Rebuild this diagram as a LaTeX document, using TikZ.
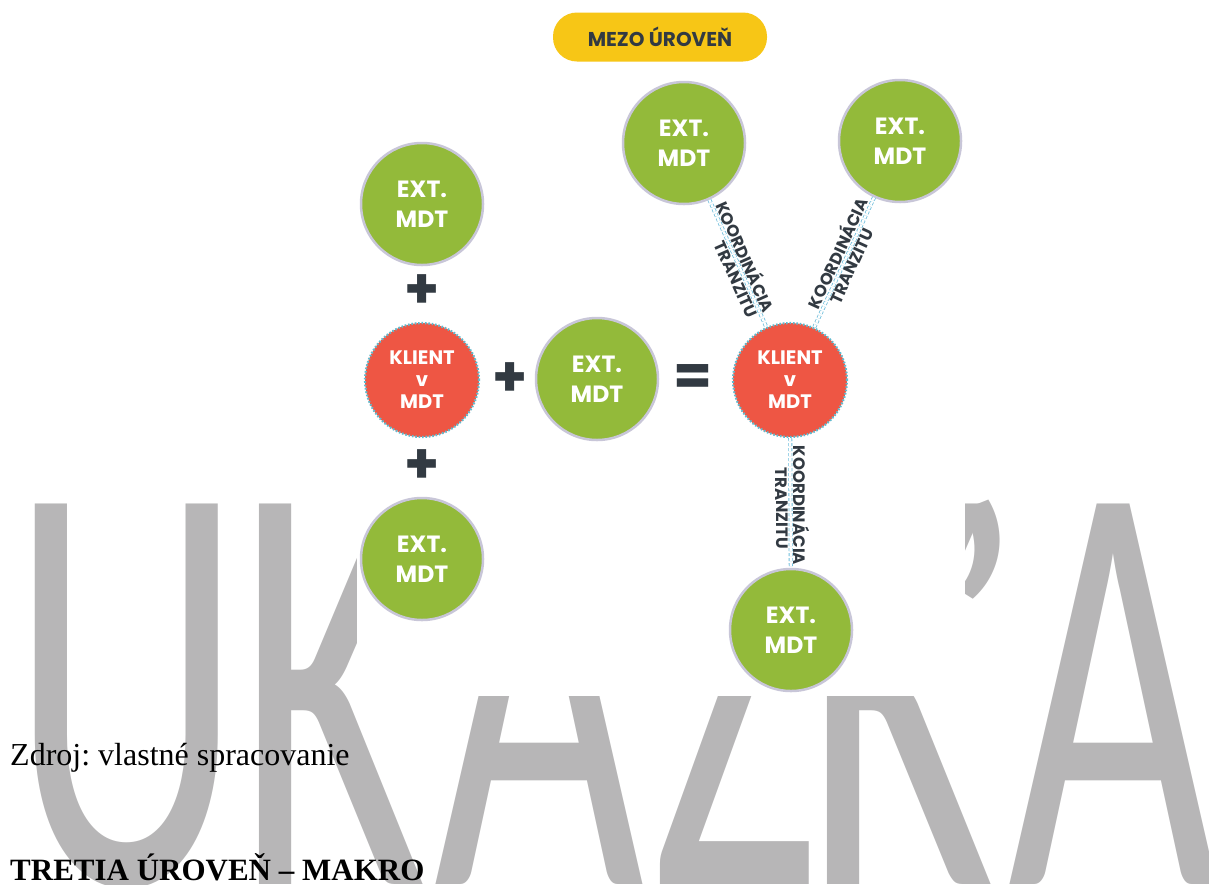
\documentclass[tikz,border=0pt]{standalone}
\usepackage{fontspec}
\usepackage{graphicx}
\usepackage{xcolor}
\usepackage{tikz}

\newfontfamily\diagfont{Poppins}
\newfontfamily\docfont{Liberation Serif}
\newfontfamily\wmfont{Carlito}

\definecolor{extgreen}{RGB}{147,186,58}
\definecolor{ringgray}{RGB}{200,198,216}
\definecolor{klientred}{RGB}{238,86,68}
\definecolor{dotblue}{RGB}{96,186,206}
\definecolor{linkblue}{RGB}{110,190,220}
\definecolor{darktext}{RGB}{50,58,66}
\definecolor{pillyellow}{RGB}{247,198,22}
\definecolor{wmgray}{RGB}{183,182,183}

\newcommand\wmtxt[1]{\scalebox{0.6}[0.982]{#1}}

\tikzset{
  ext/.style={circle, fill=extgreen, draw=ringgray, line width=2.5pt,
    minimum size=122pt, inner sep=0pt, text=white, align=center,
    font={\diagfont\bfseries\fontsize{23.5}{30}\selectfont}},
  klient/.style={circle, fill=klientred, draw=dotblue,
    dash pattern=on 1.6pt off 1.8pt, line width=2.2pt,
    minimum size=114pt, inner sep=0pt, text=white, align=center,
    font={\diagfont\bfseries\fontsize{19.5}{22}\selectfont}},
  op/.style={text=darktext, inner sep=0pt,
    font={\diagfont\bfseries\fontsize{56}{56}\selectfont}},
  link/.style={draw=linkblue, densely dashed, line width=0.8pt,
    double=white, double distance=2.4pt},
  linklabel/.style={sloped, text=darktext, inner sep=2.5pt,
    font={\diagfont\bfseries\fontsize{16.5}{16.5}\selectfont}},
  pill/.style={fill=pillyellow, rounded corners=24pt, minimum width=214pt,
    minimum height=49pt, text=darktext,
    font={\diagfont\bfseries\fontsize{20}{20}\selectfont}},
  wm/.style={anchor=base, inner sep=0pt, text=wmgray,
    font={\wmfont\fontsize{604}{604}\selectfont}},
  doctext/.style={anchor=base west, inner sep=0pt,
    font={\docfont\fontsize{32}{32}\selectfont\frenchspacing}}
}

\begin{document}
\begin{tikzpicture}[x=1pt,y=-1pt]
\useasboundingbox (0,0) rectangle (1209,884);

% watermark
\node[wm] (wmU) at (127,884) {\wmtxt{U}};
\node[wm] (wmK) at (332,884) {\wmtxt{K}};
\node[wm] (wmA) at (539,884) {\wmtxt{Á}};
\node[wm] (wmZ) at (735,884) {\wmtxt{Ž}};
\node[wm] (wmKK) at (900,884) {\wmtxt{K}};
\node[wm, anchor=north] (wmQ) at (980,500) {\scalebox{0.6}[0.6]{’}};
\node[wm] (wmAA) at (1113,884) {\wmtxt{A}};

% white ground of the scheme
\fill[white] (357,0) rectangle (965,696);

% scheme
\node[pill] (level) at (660,37) {MEZO ÚROVEŇ};

\node[ext] (extTop) at (422,204) {EXT.\\MDT};
\node[op] (plusTop) at (422,292) {+};
\node[klient] (kliLeft) at (422,380) {KLIENT\\v\\MDT};
\node[op] (plusBot) at (422,467) {+};
\node[ext] (extBot) at (422,559) {EXT.\\MDT};
\node[op] (plusMid) at (510,380) {+};
\node[ext] (extMid) at (597,379) {EXT.\\MDT};
\node[op] (eqSign) at (693,380) {=};

\node[klient] (kliRight) at (790,380) {KLIENT\\v\\MDT};
\node[ext] (extNW) at (684,143) {EXT.\\MDT};
\node[ext] (extNE) at (900,141) {EXT.\\MDT};
\node[ext] (extS) at (791,630) {EXT.\\MDT};

\draw[link] (extNW) -- (kliRight)
  node[linklabel, pos=0.48, above] {KOORDINÁCIA}
  node[linklabel, pos=0.6, below] {TRANZITU};
\draw[link] (kliRight) -- (extNE)
  node[linklabel, pos=0.54, above] {KOORDINÁCIA}
  node[linklabel, pos=0.5, below] {TRANZITU};
\draw[link] (kliRight) -- (extS)
  node[linklabel, pos=0.52, above] {KOORDINÁCIA}
  node[linklabel, pos=0.54, below] {TRANZITU};

% document text
\node[doctext] (source) at (10,765) {Zdroj: vlastné spracovanie};
\node[doctext, font={\docfont\bfseries\fontsize{31}{31}\selectfont}] (heading) at (10,880) {TRETIA ÚROVEŇ – MAKRO};
\end{tikzpicture}
\end{document}
